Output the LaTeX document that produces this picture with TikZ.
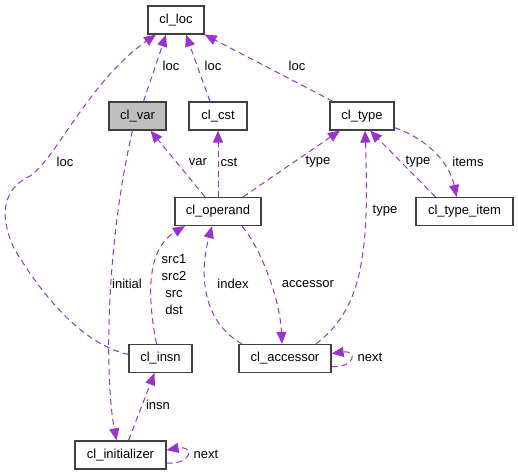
\documentclass[tikz,border=0pt]{standalone}
\usepackage{fontspec}
\setmainfont{Liberation Sans}
\usetikzlibrary{arrows.meta}
\definecolor{relcol}{HTML}{9A32CD}
\definecolor{boxcol}{HTML}{404040}
\definecolor{selcol}{HTML}{BFBFBF}

\begin{document}
\begin{tikzpicture}[x=1pt,y=-1pt,font=\fontsize{13}{17}\selectfont,
	cls/.style = {draw=boxcol,line width=1.2pt,fill=white,minimum height=28pt,inner sep=0pt},
	rel/.style = {draw=relcol,line width=1pt,dash pattern=on 6pt off 4pt,-{Triangle[length=12pt,width=10pt]}},
	lbl/.style = {inner sep=0pt}]
			\useasboundingbox (0,0) rectangle (518,475);
			\node (loc)  at (176, 20) [cls,minimum width=56pt]  {cl\_loc};
			\node (var)  at (137.5, 116) [cls,fill=selcol,minimum width=57pt]  {cl\_var};
			\node (cst)  at (218, 116) [cls,minimum width=58pt]  {cl\_cst};
			\node (type)  at (362, 116) [cls,minimum width=64pt]  {cl\_type};
			\node (op)  at (218, 211.5) [cls,minimum width=86pt]  {cl\_operand};
			\node (ti)  at (464.5, 211.5) [cls,minimum width=97pt]  {cl\_type\_item};
			\node (insn)  at (160.5, 358.5) [cls,minimum width=63pt]  {cl\_insn};
			\node (acc)  at (285, 358.5) [cls,minimum width=92pt]  {cl\_accessor};
			\node (init)  at (120.5, 455) [cls,minimum width=91pt]  {cl\_initializer};
			\draw      [rel] ([xshift=6pt]var.north) -- ([xshift=-10pt]loc.south);
			\node (lvarloc)  at (171, 66) [lbl]  {loc};
			\draw      [rel] ([xshift=-8pt]cst.north) -- ([xshift=10pt]loc.south);
			\node (lcstloc)  at (213, 66) [lbl]  {loc};
			\draw      [rel] ([xshift=-29pt]type.north) -- (loc.south east);
			\node (ltypeloc)  at (297, 66) [lbl]  {loc};
			\draw      [rel] ([yshift=4pt]insn.west) .. controls (85,345) and (45,300) .. (15,250) .. controls (0,220) and (0,190) .. (30,176) .. controls (55,160) and (90,80) .. ([xshift=-20pt]loc.south);
			\node (linsnloc)  at (65, 162) [lbl]  {loc};
			\draw      [rel] ([xshift=-5pt]var.south) .. controls (105,250) and (105,380) .. ([xshift=-4pt]init.north);
			\node (linitial)  at (127, 284) [lbl]  {initial};
			\draw      [rel] ([xshift=-13pt]op.north) -- ([xshift=13pt]var.south);
			\node (lvar)  at (198, 162) [lbl]  {var};
			\draw      [rel] (op.north) -- (cst.south);
			\node (lcst)  at (229, 162) [lbl]  {cst};
			\draw      [rel] ([xshift=25pt]op.north) -- ([xshift=-22pt]type.south);
			\node (loptype)  at (318, 162) [lbl]  {type};
			\draw      [rel] ([yshift=3pt]type.south east) .. controls (430,140) and (450,165) .. ([xshift=-8pt]ti.north);
			\node (litems)  at (468, 162) [lbl]  {items};
			\draw      [rel] ([xshift=-29pt]ti.north) -- ([xshift=8pt]type.south);
			\node (ltitype)  at (418, 162) [lbl]  {type};
			\draw      [rel] ([xshift=31pt]acc.north) .. controls (360,310) and (370,260) .. ([xshift=3pt]type.south);
			\node (lacctype)  at (385, 211) [lbl]  {type};
			\draw      [rel] ([xshift=-4pt]insn.north) .. controls (148,300) and (145,250) .. ([xshift=-33pt]op.south);
			\node (lsrc)  at (174, 284.5) [lbl,align=center]  {src1\\src2\\src\\dst};
			\draw      [rel] ([xshift=-43pt]acc.north) .. controls (200,320) and (200,270) .. ([xshift=-6pt]op.south);
			\node (lindex)  at (233, 284) [lbl]  {index};
			\draw      [rel] ([xshift=24pt]op.south) .. controls (262,250) and (280,300) .. ([xshift=-3pt]acc.north);
			\node (laccessor)  at (308, 284) [lbl]  {accessor};
			\draw      [rel] ([yshift=-8pt]acc.east) .. controls (355,368) and (358,350) .. ([yshift=5pt]acc.east);
			\node (laccnext)  at (370, 357) [lbl]  {next};
			\draw      [rel] ([xshift=8pt]init.north) -- ([xshift=-6pt]insn.south);
			\node (linsn)  at (158, 405) [lbl]  {insn};
			\draw      [rel] ([yshift=-8pt]init.east) .. controls (192,465) and (195,445) .. ([yshift=5pt]init.east);
			\node (linitnext)  at (206, 454) [lbl]  {next};
		\end{tikzpicture}
\end{document}
